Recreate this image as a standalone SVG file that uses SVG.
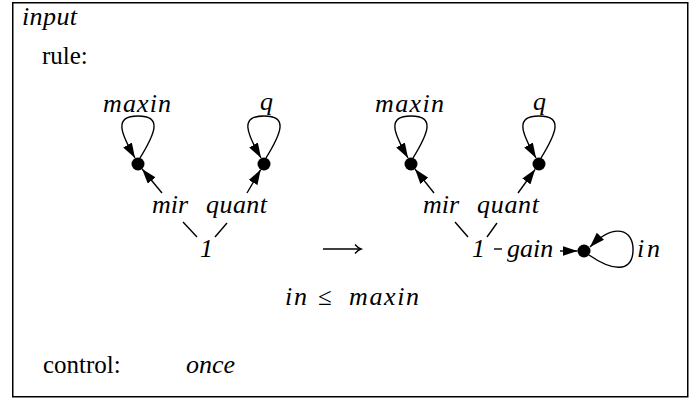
<svg xmlns="http://www.w3.org/2000/svg" width="700" height="398" viewBox="0 0 700 398">
  <defs>
    <marker id="tip" viewBox="0 0 15 10" refX="15" refY="5" markerWidth="15" markerHeight="10" markerUnits="userSpaceOnUse" orient="auto">
      <path d="M0,0 L15,5 L0,10 z" fill="#000"/>
    </marker>
  </defs>
  <style>
    text { font-family: "Liberation Serif", "Times New Roman", serif; font-size: 25px; fill: #000; }
    .m { font-style: italic; font-size: 26px; }
    .e { fill: none; stroke: #000; stroke-width: 1.4; }
    .a { marker-end: url(#tip); }
    .n { fill: #000; }
  </style>

  <!-- frame -->
  <rect x="12.75" y="2.75" width="675" height="394" fill="#fff" stroke="#000" stroke-width="1.5"/>

  <text class="m" x="22" y="25" textLength="55">input</text>
  <text x="42" y="64">rule:</text>

  <!-- left-hand side of the rule -->
  <g id="lhs-maxin-node">
    <circle class="n" cx="138" cy="164" r="6.5"/>
    <text class="m" x="103" y="112" textLength="68">maxin</text>
  </g>
  <g id="lhs-q-node">
    <circle class="n" cx="264" cy="164" r="6.5"/>
    <text class="m" x="260" y="110">q</text>
  </g>
  <g id="lhs-one">
    <text class="m" x="200" y="257">1</text>
  </g>

  <!-- right-hand side of the rule -->
  <g id="rhs-maxin-node">
    <circle class="n" cx="411" cy="164" r="6.5"/>
    <text class="m" x="375" y="112" textLength="69">maxin</text>
  </g>
  <g id="rhs-q-node">
    <circle class="n" cx="539" cy="164" r="6.5"/>
    <text class="m" x="533" y="110">q</text>
  </g>
  <g id="rhs-one">
    <text class="m" x="472" y="257">1</text>
  </g>
  <g id="rhs-in-node">
    <circle class="n" cx="584" cy="251" r="6.5"/>
    <text class="m" x="637" y="257" textLength="23">in</text>
  </g>

  <g id="connectors">
    <!-- self loops -->
    <path class="e a" d="M140,158 C156,132 162,116 138,116 C114,116 120,132 135,158"/>
    <path class="e a" d="M266,158 C282,132 288,116 264,116 C240,116 246,132 261,158"/>
    <path class="e a" d="M413,158 C429,132 435,116 411,116 C387,116 393,132 408,158"/>
    <path class="e a" d="M541,158 C557,132 563,116 539,116 C515,116 521,132 536,158"/>
    <path class="e a" d="M589,255 C612,271 632,273 633,251 C634,229 614,222 590,247"/>

    <!-- edges from the left node 1 -->
    <line class="e a" x1="162" y1="193" x2="142.1" y2="169"/>
    <line class="e a" x1="247" y1="193" x2="260.7" y2="169.6"/>
    <line class="e" x1="183" y1="222" x2="197" y2="237"/>
    <line class="e" x1="227" y1="223" x2="215" y2="237"/>
    <text class="m" x="152" y="213">mir</text>
    <text class="m" x="206" y="213" textLength="61">quant</text>

    <!-- edges from the right node 1 -->
    <line class="e a" x1="434" y1="193" x2="415" y2="169.1"/>
    <line class="e a" x1="518" y1="193" x2="535.2" y2="169.3"/>
    <line class="e" x1="455" y1="222" x2="468" y2="237"/>
    <line class="e" x1="497" y1="223" x2="487" y2="237"/>
    <line class="e" x1="494" y1="249" x2="502" y2="249"/>
    <line class="e a" x1="560" y1="251" x2="577.5" y2="251"/>
    <text class="m" x="423" y="213">mir</text>
    <text class="m" x="477" y="213" textLength="62">quant</text>
    <text class="m" x="507" y="257">gain</text>
  </g>

  <!-- rewrite arrow -->
  <line class="e" x1="323" y1="249" x2="360" y2="249"/>
  <path class="e" d="M355,244.5 Q358,248 361,249 Q358,250 355,253.5"/>

  <!-- application condition -->
  <text class="m" x="285" y="305" textLength="22">in</text>
  <text x="318" y="305">≤</text>
  <text class="m" x="349" y="305" textLength="70">maxin</text>

  <text x="43" y="373">control:</text>
  <text class="m" x="186" y="373">once</text>
</svg>
